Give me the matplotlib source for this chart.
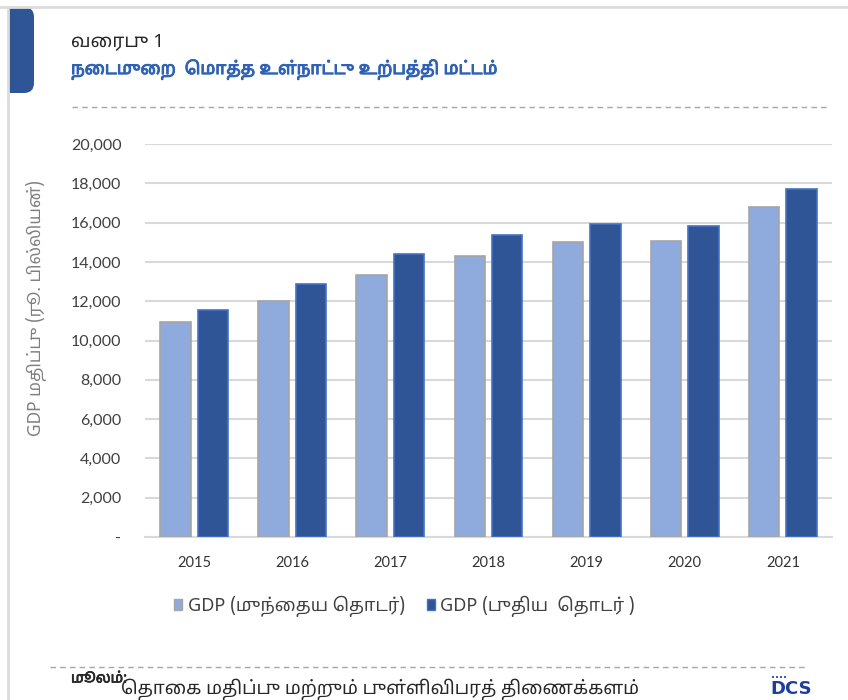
import matplotlib
matplotlib.use('Agg')
import matplotlib.pyplot as plt
import matplotlib.patheffects as pe
from matplotlib.patches import FancyBboxPatch, Rectangle, Patch
from matplotlib.lines import Line2D
from matplotlib.transforms import Bbox
import numpy as np

# data
years = ['2015', '2016', '2017', '2018', '2019', '2020', '2021']
gdp_old = [10950, 12000, 13320, 14280, 15030, 15050, 16810]
gdp_new = [11570, 12860, 14380, 15370, 15930, 15850, 17690]
y_ticks = [0, 2000, 4000, 6000, 8000, 10000, 12000, 14000, 16000, 18000, 20000]
y_ticklabels = ['-'] + [f'{v:,}' for v in y_ticks[1:]]

title_1 = 'வரைபு 1'
title_2 = 'நடைமுறை  மொத்த உள்நாட்டு உற்பத்தி மட்டம்'
y_label = 'GDP மதிப்பு (ரூ. பில்லியன்)'
legend_labels = ['GDP (முந்தைய தொடர்)', 'GDP (புதிய  தொடர் )']
source_head = 'மூலம்:'
source_text = 'தொகை மதிப்பு மற்றும் புள்ளிவிபரத் திணைக்களம்'

C_OLD = '#8faadc'
C_NEW = '#2f5597'
TAMIL = ['Noto Sans Tamil', 'DejaVu Sans']


def tamil(s):
    # matplotlib has no text shaping: move the prefix vowel signs in front
    # of their consonant so the words read correctly
    prefix = {'\u0BC6', '\u0BC7', '\u0BC8'}
    split = {'\u0BCA': ('\u0BC6', '\u0BBE'), '\u0BCB': ('\u0BC7', '\u0BBE'),
             '\u0BCC': ('\u0BC6', '\u0BD7')}
    out = []
    for ch in s:
        if ch in prefix and out:
            out.insert(len(out) - 1, ch)
        elif ch in split and out:
            left, right = split[ch]
            out.insert(len(out) - 1, left)
            out.append(right)
        else:
            out.append(ch)
    return ''.join(out)


W, H = 848, 700
fig = plt.figure(figsize=(W / 100, H / 100), dpi=100)

def fx(px):
    return px / W

def fy(py):
    return 1 - py / H

# frame and blue tab (pixel coordinates)
fig.add_artist(Line2D([0, W], [H - 7, H - 7], transform=None, color='#dcdcdc', lw=2))
fig.add_artist(Line2D([8, 8], [0, H - 7], transform=None, color='#dcdcdc', lw=2))
tab = FancyBboxPatch((-6, H - 93), 40, 86, boxstyle='round,pad=0,rounding_size=10',
                     transform=None, facecolor=C_NEW, edgecolor='none')
tab.set_clip_box(Bbox([[8, 0], [W, H]]))
fig.add_artist(tab)

# titles
fig.text(fx(71), fy(42), tamil(title_1), family=TAMIL, fontsize=13.5, color='#262626', va='center')
fig.text(fx(71), fy(70), tamil(title_2), family=TAMIL, fontsize=12.5, color='#2f62b4', va='center',
         path_effects=[pe.withStroke(linewidth=0.7, foreground='#2f62b4')])
fig.add_artist(Line2D([fx(72), fx(830)], [fy(107), fy(107)], transform=fig.transFigure,
                      color='#a6a6a6', lw=1, dashes=(4, 3)))

# chart
ax_left, ax_right = 145, 832
ax = fig.add_axes([fx(ax_left), fy(537), fx(ax_right) - fx(ax_left), fy(144) - fy(537)])
x = np.arange(len(years))
ax.bar(x - 0.19, gdp_old, width=0.31, color=C_OLD, edgecolor='#a5a5a5', linewidth=1.2, zorder=3)
ax.bar(x + 0.19, gdp_new, width=0.31, color=C_NEW, edgecolor='#4472c4', linewidth=1.2, zorder=3)
ax.set_xlim(-0.5, len(years) - 0.5)
ax.set_ylim(0, 20000)
ax.set_yticks(y_ticks)
ax.set_yticklabels(y_ticklabels, family='Lato', fontsize=11.5, color='#404040')
ax.set_xticks(x)
ax.set_xticklabels(years, family='Lato', fontsize=10.5, color='#333333')
ax.tick_params(length=0)
ax.tick_params(axis='y', pad=17)
ax.tick_params(axis='x', pad=14)
ax.grid(axis='y', color='#d9d9d9', lw=1.5, zorder=0)
for s in ['top', 'right', 'left']:
    ax.spines[s].set_visible(False)
ax.spines['bottom'].set_color('#d9d9d9')
ax.spines['bottom'].set_linewidth(1.5)
ax.set_ylabel(tamil(y_label), family=TAMIL, fontsize=12.5, color='#808080')
ax.yaxis.set_label_coords((46 - ax_left) / (ax_right - ax_left), (537 - 308) / 393)

handles = [Patch(facecolor=C_OLD, edgecolor='#a5a5a5'), Patch(facecolor=C_NEW, edgecolor='#4472c4')]
ax.legend(handles, [tamil(l) for l in legend_labels], ncol=2, frameon=False,
          loc='center left', bbox_to_anchor=(fx(158), fy(606)), bbox_transform=fig.transFigure,
          prop={'family': TAMIL, 'size': 13}, handlelength=0.45, handleheight=0.6,
          handletextpad=0.3, columnspacing=1.2, labelcolor='#404040')

# source
fig.add_artist(Line2D([fx(50), fx(808)], [fy(667), fy(667)], transform=fig.transFigure,
                      color='#a6a6a6', lw=1, dashes=(4, 3)))
fig.text(fx(71), fy(679), tamil(source_head), family=TAMIL, fontsize=10.5, color='#262626',
         va='center', path_effects=[pe.withStroke(linewidth=0.5, foreground='#262626')])
fig.text(fx(121), fy(689), tamil(source_text), family=TAMIL, fontsize=13.3,
         color='#262626', va='center')
fig.text(fx(791), fy(689), 'DCS', family='DejaVu Sans', fontsize=13, fontweight='bold',
         color='#1f3e9c', ha='center', va='center')
for dx in [0, 4, 8, 12]:
    fig.add_artist(Rectangle((772 + dx, H - 678), 2, 2, transform=None,
                             facecolor='#3a5bc7', edgecolor='none'))

fig.savefig('out.png', dpi=100)
